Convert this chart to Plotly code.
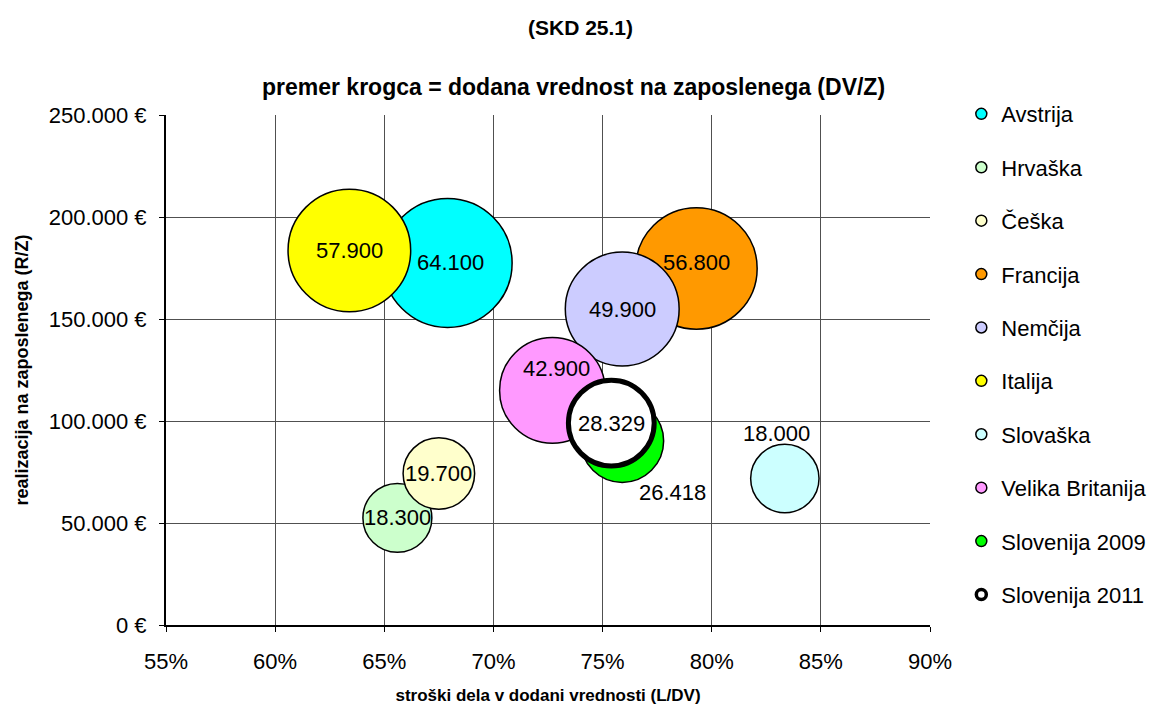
import plotly.graph_objects as go

# ---- data ----
countries = ["Avstrija", "Hrvaška", "Češka", "Francija", "Nemčija", "Italija",
             "Slovaška", "Velika Britanija", "Slovenija 2009", "Slovenija 2011"]
labour_cost_share = [67.9, 65.6, 67.5, 79.3, 75.9, 63.4, 83.35, 72.7, 75.9, 75.4]   # L/DV, %
revenue_per_employee = [177500, 52500, 74300, 174800, 154900, 183600, 71800, 115000, 90200, 99000]  # R/Z, EUR
value_added_per_employee = [64100, 18300, 19700, 56800, 49900, 57900, 18000, 42900, 26418, 28329]  # DV/Z, EUR

x_tickvals = [55, 60, 65, 70, 75, 80, 85, 90]
x_ticktext = ["55%", "60%", "65%", "70%", "75%", "80%", "85%", "90%"]
y_tickvals = [0, 50000, 100000, 150000, 200000, 250000]
y_ticktext = ["0 €", "50.000 €", "100.000 €", "150.000 €", "200.000 €", "250.000 €"]

# ---- styling ----
colors = ["#00FFFF", "#CCFFCC", "#FFFFCC", "#FF9900", "#CCCCFF", "#FFFF00",
          "#CCFFFF", "#FF99FF", "#00FF00", "#FFFFFF"]
line_widths = [1.5, 1.5, 1.5, 1.5, 1.5, 1.5, 1.5, 1.5, 1.5, 5]
legend_line_widths = [1.5, 1.5, 1.5, 1.5, 1.5, 1.5, 1.5, 1.5, 1.5, 3.5]
# label offsets in pixels (dx, dy with dy upward)
label_shift = {"Avstrija": (3, 0), "Francija": (0, 6), "Velika Britanija": (4, 22),
               "Slovenija 2009": (50, -52), "Slovaška": (-8, 45)}

FONT = "Liberation Sans, Arial, sans-serif"
SIZEREF = 7.7

def fmt(v):
    return f"{v:,}".replace(",", ".")

fig = go.Figure()

# bubbles (series order = drawing order)
for i, name in enumerate(countries):
    fig.add_trace(go.Scatter(
        x=[labour_cost_share[i]], y=[revenue_per_employee[i]],
        mode="markers", name=name, showlegend=False, hoverinfo="name",
        marker=dict(size=[value_added_per_employee[i]], sizemode="area", sizeref=SIZEREF,
                    color=colors[i], opacity=1,
                    line=dict(color="black", width=line_widths[i])),
        cliponaxis=False,
    ))

# legend entries
for i, name in enumerate(countries):
    fig.add_trace(go.Scatter(
        x=[None], y=[None], mode="markers", name=name, legendgroup=name,
        marker=dict(size=10 if i == 9 else 11, color=colors[i],
                    line=dict(color="black", width=legend_line_widths[i])),
    ))

# value labels
for i, name in enumerate(countries):
    dx, dy = label_shift.get(name, (0, 0))
    fig.add_annotation(x=labour_cost_share[i], y=revenue_per_employee[i],
                       text=fmt(value_added_per_employee[i]), showarrow=False,
                       xshift=dx, yshift=dy,
                       font=dict(family=FONT, size=22, color="black"))

# titles
fig.add_annotation(xref="paper", yref="paper", x=0.542, y=1.1725, text="<b>(SKD 25.1)</b>",
                   xanchor="center", yanchor="middle",
                   showarrow=False, font=dict(family=FONT, size=21, color="black"))
fig.add_annotation(xref="paper", yref="paper", x=0.533, y=1.0549,
                   xanchor="center", yanchor="middle",
                   text="<b>premer krogca = dodana vrednost na zaposlenega (DV/Z)</b>",
                   showarrow=False, font=dict(family=FONT, size=23, color="black"))

fig.update_layout(
    width=1160, height=710,
    margin=dict(l=158, r=238, t=107, b=93, autoexpand=False),
    plot_bgcolor="white", paper_bgcolor="white",
    font=dict(family=FONT, size=22, color="black"),
    legend=dict(x=1.041, y=1.043, xanchor="left", yanchor="top", maxheight=700,
                tracegroupgap=21.8, font=dict(family=FONT, size=22),
                bgcolor="rgba(0,0,0,0)"),
    xaxis=dict(range=[55, 90], tickvals=x_tickvals, ticktext=x_ticktext, automargin=False,
               showgrid=True, gridcolor="#505050", gridwidth=1,
               showline=True, linecolor="black", linewidth=2,
               ticks="outside", ticklen=5, tickcolor="black", ticklabelstandoff=11,
               zeroline=False, tickfont=dict(size=22),
               title=dict(text="<b>stroški dela v dodani vrednosti (L/DV)</b>",
                          font=dict(family=FONT, size=17), standoff=16)),
    yaxis=dict(range=[0, 250000], tickvals=y_tickvals, ticktext=y_ticktext, automargin=False,
               showgrid=True, gridcolor="#505050", gridwidth=1,
               showline=True, linecolor="black", linewidth=2,
               ticks="outside", ticklen=5, tickcolor="black", ticklabelstandoff=8,
               zeroline=False, tickfont=dict(size=22),
               title=dict(text="<b>realizacija na zaposlenega (R/Z)</b>",
                          font=dict(family=FONT, size=18), standoff=15)),
)

fig.write_html("out.html")
